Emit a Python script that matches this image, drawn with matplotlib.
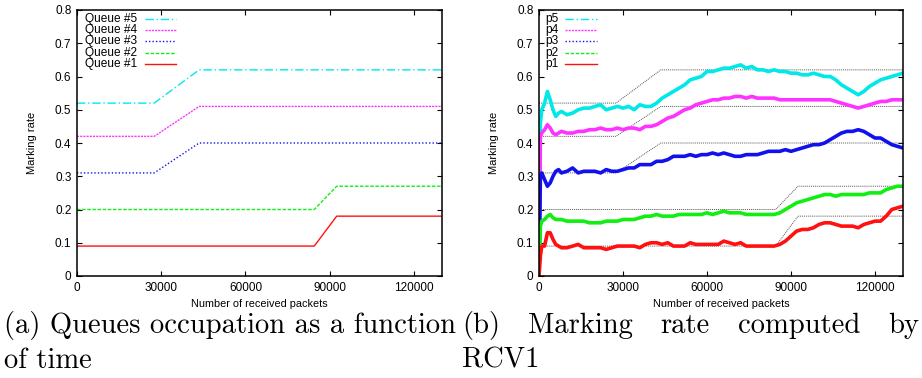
import matplotlib
matplotlib.use("Agg")
import matplotlib.pyplot as plt

# ---------------- data ----------------
# (a) queue occupation: piecewise-linear breakpoints
q_x_hi = [0, 27500, 43500, 130000]
q5 = [0.52, 0.52, 0.62, 0.62]
q4 = [0.42, 0.42, 0.51, 0.51]
q3 = [0.31, 0.31, 0.40, 0.40]
q_x_lo = [0, 84500, 92500, 130000]
q2 = [0.20, 0.20, 0.27, 0.27]
q1 = [0.09, 0.09, 0.18, 0.18]

# (b) marking rate computed by RCV1
px = [0, 500, 1000, 2000, 3000, 4000, 5000, 6000, 7000, 8000,
      10000, 12000, 14000, 16000, 18000, 20000, 22000, 24000, 26000, 28000,
      30000, 32000, 34000, 36000, 38000, 40000, 42000, 44000, 46000, 48000,
      50000, 52000, 54000, 56000, 58000, 60000, 62000, 64000, 66000, 68000,
      70000, 72000, 74000, 76000, 78000, 80000, 82000, 84000, 86000, 88000,
      90000, 92000, 94000, 96000, 98000, 100000, 102000, 104000, 106000, 108000,
      110000, 112000, 114000, 116000, 118000, 120000, 122000, 124000, 126000, 128000,
      130000]
p5 = [0.0, 0.46, 0.50, 0.52, 0.555, 0.53, 0.50, 0.48, 0.49, 0.495,
      0.485, 0.49, 0.50, 0.505, 0.505, 0.51, 0.515, 0.50, 0.505, 0.51,
      0.505, 0.51, 0.50, 0.515, 0.51, 0.51, 0.52, 0.535, 0.545, 0.555,
      0.565, 0.575, 0.59, 0.595, 0.60, 0.615, 0.615, 0.62, 0.625, 0.625,
      0.63, 0.635, 0.625, 0.63, 0.62, 0.62, 0.615, 0.62, 0.615, 0.615,
      0.61, 0.61, 0.605, 0.605, 0.61, 0.605, 0.60, 0.60, 0.59, 0.575,
      0.565, 0.555, 0.545, 0.555, 0.57, 0.58, 0.59, 0.595, 0.60, 0.605,
      0.61]
p4 = [0.0, 0.42, 0.43, 0.44, 0.455, 0.445, 0.43, 0.425, 0.43, 0.435,
      0.43, 0.43, 0.435, 0.435, 0.44, 0.44, 0.445, 0.44, 0.44, 0.445,
      0.44, 0.445, 0.445, 0.44, 0.45, 0.45, 0.455, 0.465, 0.475, 0.48,
      0.49, 0.50, 0.505, 0.515, 0.52, 0.525, 0.53, 0.53, 0.535, 0.535,
      0.54, 0.54, 0.535, 0.54, 0.535, 0.535, 0.535, 0.535, 0.53, 0.53,
      0.53, 0.53, 0.53, 0.53, 0.53, 0.53, 0.53, 0.53, 0.525, 0.52,
      0.515, 0.51, 0.505, 0.51, 0.515, 0.52, 0.525, 0.525, 0.53, 0.53,
      0.53]
p3 = [0.0, 0.30, 0.31, 0.29, 0.27, 0.28, 0.30, 0.315, 0.32, 0.31,
      0.315, 0.325, 0.31, 0.315, 0.315, 0.315, 0.31, 0.32, 0.315, 0.315,
      0.32, 0.325, 0.325, 0.335, 0.335, 0.335, 0.345, 0.345, 0.35, 0.36,
      0.36, 0.36, 0.365, 0.36, 0.365, 0.365, 0.37, 0.365, 0.37, 0.365,
      0.36, 0.36, 0.365, 0.365, 0.365, 0.37, 0.375, 0.375, 0.375, 0.38,
      0.375, 0.38, 0.385, 0.39, 0.395, 0.395, 0.40, 0.41, 0.42, 0.43,
      0.435, 0.435, 0.44, 0.435, 0.425, 0.415, 0.415, 0.405, 0.395, 0.39,
      0.385]
p2 = [0.0, 0.15, 0.165, 0.17, 0.18, 0.185, 0.175, 0.17, 0.17, 0.17,
      0.165, 0.165, 0.165, 0.165, 0.16, 0.16, 0.16, 0.165, 0.165, 0.165,
      0.17, 0.17, 0.17, 0.175, 0.18, 0.18, 0.185, 0.18, 0.18, 0.18,
      0.185, 0.185, 0.185, 0.185, 0.185, 0.19, 0.185, 0.19, 0.195, 0.19,
      0.19, 0.19, 0.185, 0.185, 0.185, 0.185, 0.185, 0.185, 0.19, 0.20,
      0.21, 0.22, 0.225, 0.23, 0.235, 0.24, 0.245, 0.245, 0.24, 0.245,
      0.245, 0.245, 0.245, 0.245, 0.25, 0.25, 0.25, 0.26, 0.265, 0.27,
      0.27]
p1 = [0.0, 0.06, 0.09, 0.09, 0.13, 0.13, 0.11, 0.095, 0.09, 0.085,
      0.085, 0.09, 0.095, 0.085, 0.085, 0.085, 0.085, 0.08, 0.085, 0.09,
      0.09, 0.09, 0.09, 0.085, 0.095, 0.10, 0.10, 0.095, 0.10, 0.09,
      0.09, 0.09, 0.10, 0.095, 0.095, 0.095, 0.095, 0.095, 0.105, 0.10,
      0.095, 0.10, 0.09, 0.09, 0.09, 0.09, 0.09, 0.09, 0.095, 0.105,
      0.12, 0.135, 0.14, 0.14, 0.145, 0.155, 0.16, 0.16, 0.155, 0.15,
      0.15, 0.15, 0.145, 0.155, 0.16, 0.165, 0.165, 0.18, 0.20, 0.205,
      0.21]

xticks = [0, 30000, 60000, 90000, 120000]
yticks = [0, 0.1, 0.2, 0.3, 0.4, 0.5, 0.6, 0.7, 0.8]
ytick_labels = ["0", "0.1", "0.2", "0.3", "0.4", "0.5", "0.6", "0.7", "0.8"]

caption_a = ["(a) Queues occupation as a function", "of time"]
caption_b_words = ["(b)", "Marking", "rate", "computed", "by"]
caption_b_line2 = "RCV1"

# ---------------- styles ----------------
C5, C4, C3, C2, C1 = "#00e8e8", "#ff33ff", "#1111ee", "#11ee11", "#ff1111"
LS5 = (0, (6, 2, 1, 2))
LS4 = (0, (1.5, 0.8))
LS3 = (0, (1, 1.5))
LS2 = (0, (2.5, 1.2))
LS1 = "-"

SANS = ["Liberation Sans", "DejaVu Sans"]
W, H = 922, 378
fig = plt.figure(figsize=(W / 100, H / 100), dpi=100)


def px_rect(x0, x1, y0, y1):
    return [x0 / W, 1 - y1 / H, (x1 - x0) / W, (y1 - y0) / H]


def style_axes(ax):
    ax.set_xlim(0, 130000)
    ax.set_ylim(0, 0.8)
    ax.set_xticks(xticks)
    ax.set_xticklabels([str(t) for t in xticks], family=SANS, fontsize=8.5)
    ax.set_yticks(yticks)
    ax.set_yticklabels(ytick_labels, family=SANS, fontsize=8.5)
    ax.tick_params(direction="in", top=True, right=True, length=3.5, width=0.8, pad=4)
    for s in ax.spines.values():
        s.set_linewidth(1.1)
    ax.set_xlabel("Number of received packets", family=SANS, fontsize=7.8, labelpad=4)
    ax.set_ylabel("Marking rate", family=SANS, fontsize=8, labelpad=13)


def legend(ax, labels, styles, xr, xl0, xl1, lw):
    y0 = 0.966
    dy = 0.042
    for i, (lab, (c, ls)) in enumerate(zip(labels, styles)):
        y = y0 - i * dy
        ax.text(xr, y, lab, transform=ax.transAxes, ha="right", va="center",
                family=SANS, fontsize=8.6)
        ax.plot([xl0, xl1], [y, y], transform=ax.transAxes, color=c, ls=ls, lw=lw)


# ---------------- (a) ----------------
axa = fig.add_axes(px_rect(77, 442, 10, 276))
lw_a = 1.0
axa.plot(q_x_hi, q5, color=C5, ls=LS5, lw=lw_a)
axa.plot(q_x_hi, q4, color=C4, ls=LS4, lw=lw_a)
axa.plot(q_x_hi, q3, color=C3, ls=LS3, lw=lw_a)
axa.plot(q_x_lo, q2, color=C2, ls=LS2, lw=lw_a)
axa.plot(q_x_lo, q1, color=C1, ls=LS1, lw=lw_a)
style_axes(axa)
legend(axa, ["Queue #5", "Queue #4", "Queue #3", "Queue #2", "Queue #1"],
       [(C5, LS5), (C4, LS4), (C3, LS3), (C2, LS2), (C1, LS1)],
       0.166, 0.186, 0.271, 1.0)

# ---------------- (b) ----------------
axb = fig.add_axes(px_rect(539, 903, 10, 276))
ref_style = dict(color="#555555", ls=(0, (1, 1)), lw=0.7)
for qx, qy in [(q_x_hi, q5), (q_x_hi, q4), (q_x_hi, q3), (q_x_lo, q2), (q_x_lo, q1)]:
    axb.plot(qx, qy, **ref_style)
lw_b = 2.6
axb.plot(px, p5, color=C5, lw=lw_b)
axb.plot(px, p4, color=C4, lw=lw_b)
axb.plot(px, p3, color=C3, lw=lw_b)
axb.plot(px, p2, color=C2, lw=lw_b)
axb.plot(px, p1, color=C1, lw=lw_b)
style_axes(axb)
legend(axb, ["p5", "p4", "p3", "p2", "p1"],
       [(C5, LS5), (C4, LS4), (C3, LS3), (C2, LS2), (C1, LS1)],
       0.055, 0.071, 0.159, 1.0)

# ---------------- captions ----------------
CAP = dict(family=["cmr10", "DejaVu Serif"], fontsize=20.6, va="baseline")
y1 = 1 - 333 / H
y2 = 1 - 368 / H
fig.text(4 / W, y1, caption_a[0], ha="left", **CAP)
fig.text(4 / W, y2, caption_a[1], ha="left", **CAP)
fig.text(462 / W, y2, caption_b_line2, ha="left", **CAP)

# justified line for caption (b)
renderer = fig.canvas.get_renderer()
left_px, right_px = 462.0, 919.0
words = [fig.text(0, y1, w, ha="left", **CAP) for w in caption_b_words]
widths = [t.get_window_extent(renderer).width for t in words]
gap = (right_px - left_px - sum(widths)) / (len(words) - 1)
xpos = left_px
for t, wd in zip(words, widths):
    t.set_x(xpos / W)
    xpos += wd + gap

fig.savefig("out.png", dpi=100)
